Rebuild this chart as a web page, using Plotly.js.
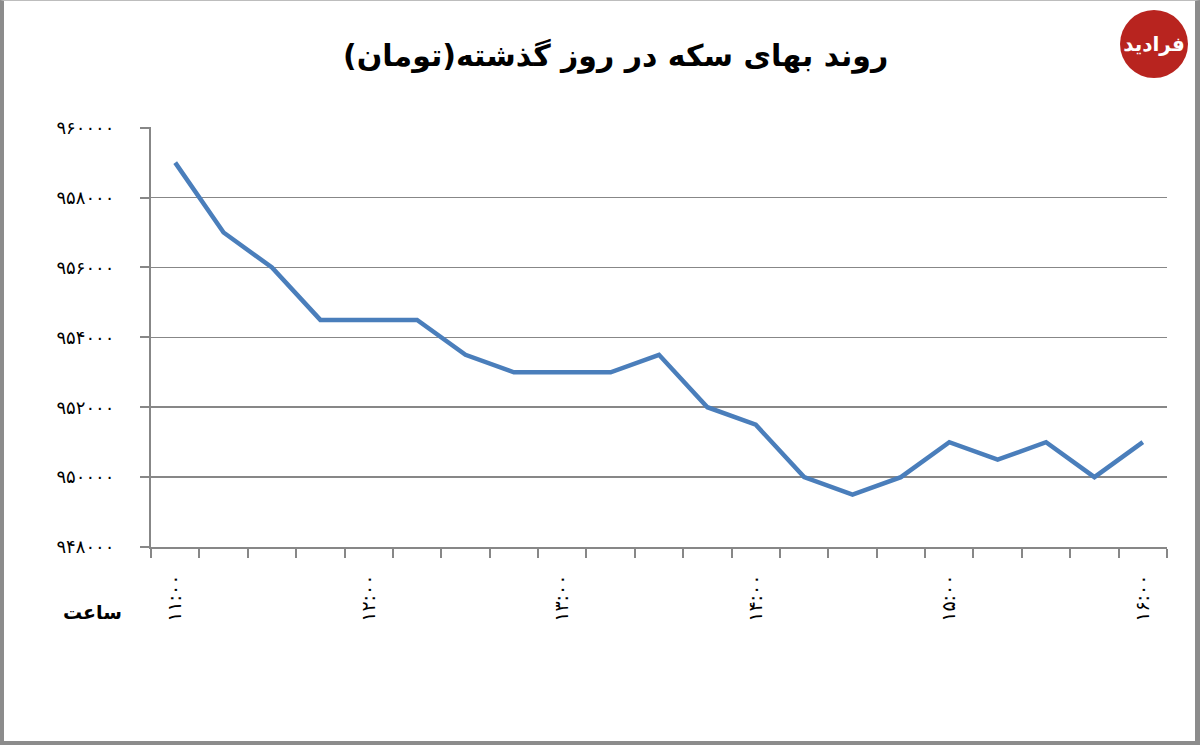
<!DOCTYPE html>
<html>
<head>
<meta charset="utf-8">
<script src="https://cdn.plot.ly/plotly-3.0.1.min.js"></script>
<style>
  html, body { margin: 0; padding: 0; background: #fff; }
  #wrap { position: relative; width: 1200px; height: 745px; }
  #chart { width: 1200px; height: 745px; }
  #frame { position: absolute; left: 0; top: 0; width: 1200px; height: 745px; box-sizing: border-box;
           border-left: 4px solid #8c8c8c; border-right: 5px solid #8c8c8c; border-bottom: 4px solid #8c8c8c;
           border-top: 1px solid #bdbdbd; pointer-events: none; }
  #logo { position: absolute; left: 1120px; top: 10px; width: 68px; height: 68px; border-radius: 50%;
          background: #b8241f; color: #fff; font-family: "DejaVu Sans", sans-serif; font-weight: bold;
          font-size: 20px; line-height: 68px; text-align: center; direction: rtl; }
</style>
</head>
<body>
<div id="wrap">
  <div id="chart"></div>
  <div id="frame"></div>
  <div id="logo">فرادید</div>
</div>
<script>
// Time of each reading (15-minute steps from 11:00 to 16:00)
const times = ["11:00","11:15","11:30","11:45","12:00","12:15","12:30","12:45","13:00","13:15","13:30",
               "13:45","14:00","14:15","14:30","14:45","15:00","15:15","15:30","15:45","16:00"];
// Coin price (toman)
const prices = [959000, 957000, 956000, 954500, 954500, 954500, 953500, 953000, 953000, 953000, 953500,
                952000, 951500, 950000, 949500, 950000, 951000, 950500, 951000, 950000, 951000];

// Hour tick labels (Persian digits)
const xTickTimes = ["11:00","12:00","13:00","14:00","15:00","16:00"];
const xTickLabels = ["۱۱:۰۰","۱۲:۰۰","۱۳:۰۰","۱۴:۰۰","۱۵:۰۰","۱۶:۰۰"];
// Y tick values and labels
const yTickValues = [948000, 950000, 952000, 954000, 956000, 958000, 960000];
const yTickLabels = ["۹۴۸۰۰۰","۹۵۰۰۰۰","۹۵۲۰۰۰","۹۵۴۰۰۰","۹۵۶۰۰۰","۹۵۸۰۰۰","۹۶۰۰۰۰"];

const titleText = "روند بهای سکه در روز گذشته(تومان)";
const xAxisName = "ساعت";

const xIndex = times.map((t, i) => i);
const xTickVals = xTickTimes.map(t => times.indexOf(t));

const FONT = "DejaVu Sans, sans-serif";

const trace = {
  x: xIndex,
  y: prices,
  type: "scatter",
  mode: "lines",
  line: { color: "#4a7ebb", width: 4.5 },
  hoverinfo: "skip"
};

const layout = {
  width: 1200,
  height: 745,
  margin: { l: 151, r: 33, t: 127, b: 198 },
  paper_bgcolor: "#ffffff",
  plot_bgcolor: "#ffffff",
  showlegend: false,
  title: {
    text: "<b>" + titleText + "</b>",
    font: { family: FONT, size: 30, color: "#000" },
    x: 0.513, xanchor: "center",
    y: 0.925, yanchor: "middle"
  },
  xaxis: {
    range: [-0.5, times.length - 0.5],
    tickmode: "array",
    tickvals: xTickVals,
    ticktext: xTickLabels,
    tickangle: -90,
    ticks: "",
    ticklabelstandoff: 18,
    tickfont: { family: FONT, size: 19, color: "#000" },
    showgrid: false,
    zeroline: false,
    showline: true,
    linecolor: "#878787",
    linewidth: 2,
    minor: { tick0: 0.5, dtick: 1, ticks: "outside", ticklen: 9, tickwidth: 2, tickcolor: "#878787", showgrid: false },
    fixedrange: true
  },
  yaxis: {
    range: [948000, 960020],
    tickmode: "array",
    tickvals: yTickValues,
    ticktext: yTickLabels,
    ticks: "outside",
    ticklen: 9,
    tickwidth: 2,
    tickcolor: "#878787",
    ticklabelstandoff: 22,
    tickfont: { family: FONT, size: 18, color: "#000" },
    showgrid: true,
    gridcolor: "#878787",
    gridwidth: 1.5,
    zeroline: false,
    showline: true,
    linecolor: "#878787",
    linewidth: 2,
    fixedrange: true
  },
  annotations: [{
    text: "<b>" + xAxisName + "</b>",
    xref: "paper", yref: "paper",
    x: -0.058, y: -0.155,
    xanchor: "center", yanchor: "middle",
    showarrow: false,
    font: { family: FONT, size: 19, color: "#000" }
  }]
};

Plotly.newPlot("chart", [trace], layout, { displayModeBar: false, staticPlot: true });
</script>
</body>
</html>
